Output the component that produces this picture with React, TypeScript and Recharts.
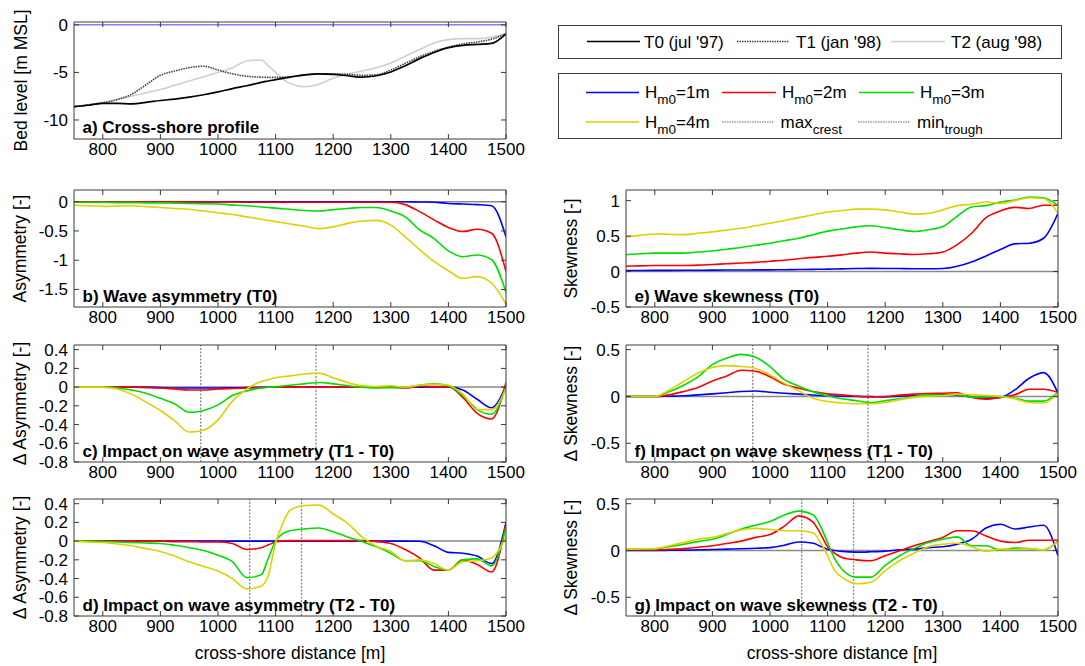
import React from 'react';
import { LineChart, Line, XAxis, YAxis, ReferenceLine } from 'recharts';

const FONT = '"Liberation Sans", Arial, Helvetica, sans-serif';

// cross-shore distance [m]
const xDist = [750, 775, 800, 825, 850, 875, 900, 925, 950, 975, 1000, 1025, 1050, 1075, 1087.5, 1100, 1112.5, 1125, 1150, 1175, 1200, 1225, 1250, 1275, 1300, 1325, 1350, 1375, 1400, 1425, 1450, 1475, 1500];
const xTicks = [800, 900, 1000, 1100, 1200, 1300, 1400, 1500];

// a) bed level profiles [m MSL]
const profileT0 = [-8.6, -8.45, -8.25, -8.25, -8.3, -8.15, -7.95, -7.8, -7.6, -7.35, -7.05, -6.7, -6.4, -6.05, -5.9, -5.75, -5.62, -5.5, -5.25, -5.15, -5.2, -5.35, -5.5, -5.35, -4.95, -4.3, -3.55, -2.9, -2.4, -2.15, -2.05, -1.95, -0.95];
const profileT1 = [-8.6, -8.4, -8.2, -7.85, -7.3, -6.3, -5.3, -4.85, -4.5, -4.35, -4.75, -5.15, -5.4, -5.5, -5.52, -5.52, -5.5, -5.45, -5.3, -5.15, -5.15, -5.2, -5.3, -5.25, -4.75, -4.05, -3.35, -2.8, -2.35, -2.0, -1.8, -1.5, -0.95];
const profileT2 = [-8.6, -8.4, -8.2, -7.85, -7.5, -7.15, -6.8, -6.35, -5.9, -5.45, -5.0, -4.5, -3.8, -3.7, -4.3, -5.0, -5.7, -6.15, -6.5, -6.25, -5.6, -5.2, -4.85, -4.5, -4.0, -3.3, -2.6, -1.9, -1.55, -1.45, -1.45, -1.3, -0.95];

// b) wave asymmetry (T0)
const asymH1 = [0, 0, 0, 0, 0, 0, 0, 0, 0, 0, 0, 0, 0, 0, 0, 0, 0, 0, 0, 0, 0, 0, 0, 0, 0, 0, -0.005, -0.01, -0.03, -0.04, -0.05, -0.07, -0.6];
const asymH2 = [0, 0, 0, 0, 0, 0, 0, 0, -0.005, -0.005, -0.005, -0.005, -0.01, -0.01, -0.01, -0.01, -0.01, -0.01, -0.01, -0.01, -0.01, -0.01, -0.01, -0.01, -0.01, -0.05, -0.17, -0.31, -0.44, -0.51, -0.47, -0.54, -1.19];
const asymH3 = [-0.01, -0.01, -0.01, -0.015, -0.015, -0.02, -0.02, -0.025, -0.03, -0.035, -0.04, -0.055, -0.07, -0.09, -0.1, -0.11, -0.12, -0.13, -0.15, -0.16, -0.135, -0.115, -0.1, -0.1, -0.16, -0.26, -0.48, -0.63, -0.84, -0.94, -0.91, -0.99, -1.55];
const asymH4 = [-0.06, -0.07, -0.08, -0.075, -0.07, -0.085, -0.1, -0.115, -0.13, -0.16, -0.19, -0.22, -0.26, -0.3, -0.32, -0.34, -0.36, -0.38, -0.42, -0.46, -0.43, -0.37, -0.33, -0.32, -0.4, -0.6, -0.82, -1.02, -1.18, -1.31, -1.28, -1.39, -1.75];

// e) wave skewness (T0)
const skewH1 = [0.014, 0.015, 0.016, 0.017, 0.018, 0.019, 0.02, 0.021, 0.022, 0.023, 0.024, 0.026, 0.028, 0.03, 0.032, 0.034, 0.036, 0.038, 0.042, 0.045, 0.044, 0.042, 0.04, 0.04, 0.043, 0.075, 0.135, 0.22, 0.31, 0.39, 0.4, 0.47, 0.82];
const skewH2 = [0.075, 0.08, 0.085, 0.085, 0.085, 0.09, 0.1, 0.11, 0.12, 0.13, 0.145, 0.16, 0.18, 0.2, 0.207, 0.215, 0.225, 0.235, 0.26, 0.275, 0.26, 0.25, 0.24, 0.25, 0.275, 0.38, 0.54, 0.76, 0.855, 0.905, 0.89, 0.935, 0.935];
const skewH3 = [0.24, 0.25, 0.26, 0.26, 0.26, 0.275, 0.29, 0.315, 0.34, 0.37, 0.4, 0.435, 0.47, 0.52, 0.545, 0.57, 0.585, 0.6, 0.63, 0.645, 0.62, 0.59, 0.565, 0.59, 0.635, 0.78, 0.91, 0.93, 0.98, 1.01, 1.05, 1.04, 0.93];
const skewH4 = [0.49, 0.51, 0.53, 0.525, 0.52, 0.54, 0.56, 0.585, 0.61, 0.645, 0.68, 0.72, 0.76, 0.8, 0.82, 0.84, 0.85, 0.86, 0.88, 0.88, 0.87, 0.84, 0.81, 0.82, 0.87, 0.93, 0.95, 0.98, 0.96, 1.0, 1.04, 1.03, 0.82];

// c) impact on wave asymmetry (T1 - T0)
const dAsymT1H1 = [0, 0, 0, 0, 0, 0, -0.005, -0.01, -0.01, -0.01, -0.01, -0.008, -0.005, -0.003, 0, 0, 0, 0, 0, 0, 0, 0, 0, 0, 0, 0, 0, 0.002, 0.003, -0.03, -0.13, -0.22, 0.02];
const dAsymT1H2 = [0, 0, 0, 0, 0, -0.005, -0.01, -0.02, -0.03, -0.03, -0.02, -0.015, -0.01, -0.005, 0, 0, 0, 0, 0, 0, 0, 0, 0, 0, 0, -0.01, 0.01, 0.005, 0.005, -0.11, -0.28, -0.34, 0.05];
const dAsymT1H3 = [0, 0, 0, -0.01, -0.03, -0.065, -0.12, -0.18, -0.27, -0.25, -0.19, -0.09, -0.04, -0.01, 0, 0.005, 0.012, 0.02, 0.035, 0.05, 0.035, 0.015, 0, -0.01, -0.005, 0, 0.02, 0.035, 0.015, -0.09, -0.24, -0.29, 0];
const dAsymT1H4 = [0, 0, 0, -0.02, -0.075, -0.16, -0.25, -0.36, -0.48, -0.46, -0.35, -0.15, -0.02, 0.06, 0.08, 0.1, 0.11, 0.12, 0.14, 0.15, 0.1, 0.05, 0.015, 0.007, 0.015, 0, 0.02, 0.03, 0.02, -0.075, -0.24, -0.24, -0.015];

// d) impact on wave asymmetry (T2 - T0)
const dAsymT2H1 = [0, 0, 0, 0, 0, 0, 0, 0, 0, 0, 0, 0, 0, 0, 0, 0, 0, 0, 0, 0, 0, 0, 0, 0, 0, 0, -0.002, -0.05, -0.12, -0.13, -0.16, -0.24, 0.2];
const dAsymT2H2 = [0, 0, 0, 0, 0, 0, 0, -0.005, -0.005, -0.01, -0.01, -0.025, -0.09, -0.07, -0.04, -0.01, 0.003, 0.005, 0.005, 0.005, 0.005, 0.005, 0.005, -0.005, -0.025, -0.09, -0.18, -0.31, -0.31, -0.2, -0.25, -0.33, 0.19];
const dAsymT2H3 = [0, 0, -0.005, -0.01, -0.015, -0.02, -0.025, -0.045, -0.07, -0.1, -0.15, -0.22, -0.39, -0.36, -0.18, 0, 0.08, 0.11, 0.13, 0.14, 0.1, 0.045, -0.005, -0.06, -0.13, -0.21, -0.21, -0.27, -0.31, -0.2, -0.19, -0.265, 0.15];
const dAsymT2H4 = [0, -0.01, -0.015, -0.03, -0.05, -0.08, -0.11, -0.16, -0.22, -0.27, -0.32, -0.4, -0.51, -0.48, -0.36, -0.02, 0.19, 0.33, 0.38, 0.385, 0.29, 0.19, 0.045, -0.055, -0.11, -0.21, -0.2, -0.24, -0.31, -0.22, -0.21, -0.18, 0.045];

// f) impact on wave skewness (T1 - T0)
const dSkewT1H1 = [0, 0, 0, 0.003, 0.007, 0.017, 0.028, 0.04, 0.053, 0.058, 0.046, 0.035, 0.025, 0.015, 0.01, 0.007, 0.005, 0.003, 0, -0.002, -0.004, 0.003, 0.01, 0.014, 0.018, 0.014, -0.004, -0.018, -0.01, 0.07, 0.195, 0.255, 0.035];
const dSkewT1H2 = [0, 0, 0, 0.018, 0.053, 0.095, 0.166, 0.22, 0.28, 0.27, 0.21, 0.13, 0.088, 0.053, 0.04, 0.028, 0.022, 0.018, 0.004, -0.004, 0, 0.014, 0.025, 0.032, 0.035, 0.039, -0.01, -0.028, -0.01, 0.018, 0.078, 0.078, 0.045];
const dSkewT1H3 = [0, 0, 0, 0.05, 0.12, 0.21, 0.34, 0.41, 0.45, 0.42, 0.32, 0.18, 0.11, 0.05, 0.025, 0.007, -0.01, -0.025, -0.045, -0.065, -0.045, -0.025, 0, 0.018, 0.014, 0.018, -0.007, -0.004, 0, -0.018, -0.05, -0.05, 0.045];
const dSkewT1H4 = [0, 0, 0, 0.07, 0.16, 0.25, 0.31, 0.33, 0.32, 0.3, 0.23, 0.14, 0.06, -0.018, -0.04, -0.053, -0.062, -0.07, -0.078, -0.078, -0.064, -0.035, -0.01, 0.004, 0.007, 0.025, 0.018, 0.01, 0, -0.025, -0.064, -0.07, 0.035];

// g) impact on wave skewness (T2 - T0)
const dSkewT2H1 = [0, 0, 0, 0.002, 0.004, 0.007, 0.01, 0.014, 0.018, 0.024, 0.03, 0.056, 0.09, 0.077, 0.045, 0.014, 0, -0.01, -0.018, -0.014, -0.007, 0.007, 0.014, 0.03, 0.04, 0.067, 0.12, 0.24, 0.28, 0.23, 0.25, 0.27, -0.056];
const dSkewT2H2 = [0.007, 0.007, 0.007, 0.012, 0.02, 0.035, 0.05, 0.075, 0.1, 0.14, 0.17, 0.26, 0.37, 0.3, 0.18, 0.04, -0.03, -0.074, -0.1, -0.11, -0.056, -0.004, 0.05, 0.095, 0.14, 0.21, 0.21, 0.155, 0.1, 0.085, 0.11, 0.11, 0.11];
const dSkewT2H3 = [0.014, 0.014, 0.016, 0.04, 0.067, 0.095, 0.12, 0.17, 0.23, 0.27, 0.31, 0.38, 0.42, 0.38, 0.26, 0.085, -0.09, -0.2, -0.285, -0.285, -0.16, -0.056, 0.02, 0.085, 0.12, 0.145, 0.05, 0.05, 0.004, 0.025, 0.02, 0.007, 0.1];
const dSkewT2H4 = [0.014, 0.017, 0.02, 0.05, 0.085, 0.12, 0.14, 0.18, 0.22, 0.236, 0.225, 0.21, 0.21, 0.19, 0.085, -0.056, -0.215, -0.285, -0.356, -0.34, -0.215, -0.11, -0.03, 0.04, 0.067, 0.077, 0.04, -0.007, 0.014, 0.01, 0.02, 0.004, 0.1];

// crest / trough positions
const crestTroughT1 = [970, 1170];
const crestTroughT2 = [1055, 1145];

const C_H1 = '#0000ff';
const C_H2 = '#ff0000';
const C_H3 = '#00dd00';
const C_H4 = '#dcd200';
const FRAME = '#3a3a3a';

type Series = { key: string; values: number[]; color: string; dash?: string; width?: number };

const wave = (a: number[], b: number[], c: number[], d: number[]): Series[] => [
  { key: 'h1', values: a, color: C_H1 },
  { key: 'h2', values: b, color: C_H2 },
  { key: 'h3', values: c, color: C_H3 },
  { key: 'h4', values: d, color: C_H4 },
];

type PanelProps = {
  left: number; top: number; w: number; h: number;
  domain: [number, number]; yTicks: number[];
  series: Series[]; zeroColor: string; zeroWidth: number; vlines?: number[];
};

function Panel({ left, top, w, h, domain, yTicks, series, zeroColor, zeroWidth, vlines = [] }: PanelProps) {
  const YW = 60;
  const MT = 10;
  const MR = 26;
  const data = xDist.map((x, i) => {
    const row: Record<string, number> = { x };
    series.forEach((s) => { row[s.key] = s.values[i]; });
    return row;
  });
  const cw = w + YW + 1 + MR;
  const ch = h + 31 + MT;
  const tickStyle = { fill: '#000', fontSize: 17, fontFamily: FONT };
  return (
    <div style={{ position: 'absolute', left: left - YW, top: top - 1 - MT, width: cw, height: ch }}>
      <LineChart width={cw} height={ch} data={data} margin={{ top: MT, right: MR, bottom: 0, left: 0 }}>
        <XAxis xAxisId="b" dataKey="x" type="number" domain={[750, 1500]} ticks={xTicks} allowDataOverflow
          orientation="bottom" height={30} tickSize={-5} tickMargin={9} stroke={FRAME} tick={tickStyle} interval={0} />
        <XAxis xAxisId="t" dataKey="x" type="number" domain={[750, 1500]} ticks={xTicks} allowDataOverflow
          orientation="top" height={1} tickSize={-5} tickFormatter={() => ''} stroke={FRAME} interval={0} />
        <YAxis yAxisId="l" type="number" domain={domain} ticks={yTicks} allowDataOverflow width={YW}
          tickSize={-5} tickMargin={11} stroke={FRAME} tick={tickStyle} interval={0} tickFormatter={(v: number) => String(v)} />
        <YAxis yAxisId="r" orientation="right" type="number" domain={domain} ticks={yTicks} allowDataOverflow width={1}
          tickSize={-5} tickFormatter={() => ''} stroke={FRAME} interval={0} />
        <ReferenceLine xAxisId="b" yAxisId="l" y={0} stroke={zeroColor} strokeWidth={zeroWidth} />
        {vlines.map((v) => (
          <ReferenceLine key={v} xAxisId="b" yAxisId="l" x={v} stroke="#8a8a8a" strokeWidth={1.3} strokeDasharray="2 1.5" />
        ))}
        {series.map((s) => (
          <Line key={s.key} xAxisId="b" yAxisId="l" dataKey={s.key} type="monotone" stroke={s.color}
            strokeWidth={s.width ?? 1.6} strokeDasharray={s.dash} dot={false} activeDot={false} isAnimationActive={false} />
        ))}
      </LineChart>
    </div>
  );
}

const LX = 74, RX = 626, PW = 432, PH = 117;
const TOPS = [22, 190, 345, 499];

function Overlay() {
  const title = (x: number, y: number, t: string) => (
    <text x={x} y={y} fontSize={17} fontWeight="bold" fontFamily={FONT} fill="#000">{t}</text>
  );
  const ylab = (x: number, yc: number, t: string) => (
    <text x={x} y={yc} fontSize={17.5} fontFamily={FONT} textAnchor="middle" transform={`rotate(-90 ${x} ${yc})`} fill="#000">{t}</text>
  );
  const hm = (x: number, y: number, v: string) => (
    <text x={x} y={y} fontSize={17} fontFamily={FONT} fill="#000">H<tspan dy={6} fontSize={13.5}>m0</tspan><tspan dy={-6}>={v}</tspan></text>
  );
  return (
    <svg width={1085} height={666} style={{ position: 'absolute', left: 0, top: 0, pointerEvents: 'none' }}>
      {ylab(27, TOPS[0] + PH / 2, 'Bed level [m MSL]')}
      {ylab(26, TOPS[1] + PH / 2, 'Asymmetry [-]')}
      {ylab(26, TOPS[2] + PH / 2, '\u0394 Asymmetry [-]')}
      {ylab(26, TOPS[3] + PH / 2, '\u0394 Asymmetry [-]')}
      {ylab(577, TOPS[1] + PH / 2, 'Skewness [-]')}
      {ylab(577, TOPS[2] + PH / 2, '\u0394 Skewness [-]')}
      {ylab(577, TOPS[3] + PH / 2, '\u0394 Skewness [-]')}
      {title(LX + 8.5, TOPS[0] + PH - 6, 'a) Cross-shore profile')}
      {title(LX + 8.5, TOPS[1] + PH - 5.5, 'b) Wave asymmetry (T0)')}
      {title(LX + 8.5, TOPS[2] + PH - 5.5, 'c) Impact on wave asymmetry (T1 - T0)')}
      {title(LX + 8.5, TOPS[3] + PH - 5.5, 'd) Impact on wave asymmetry (T2 - T0)')}
      {title(RX + 8.5, TOPS[1] + PH - 5.5, 'e) Wave skewness (T0)')}
      {title(RX + 8.5, TOPS[2] + PH - 5.5, 'f) Impact on wave skewness (T1 - T0)')}
      {title(RX + 8.5, TOPS[3] + PH - 5.5, 'g) Impact on wave skewness (T2 - T0)')}
      <text x={LX + PW / 2} y={659} fontSize={17.5} fontFamily={FONT} textAnchor="middle">cross-shore distance [m]</text>
      <text x={RX + PW / 2} y={659} fontSize={17.5} fontFamily={FONT} textAnchor="middle">cross-shore distance [m]</text>

      {/* legend 1 */}
      <rect x={558.5} y={25.5} width={503} height={33} fill="#fff" stroke={FRAME} strokeWidth={1} />
      <line x1={587} y1={41.5} x2={640} y2={41.5} stroke="#000" strokeWidth={1.6} />
      <text x={644} y={48} fontSize={17} fontFamily={FONT}>T0 (jul '97)</text>
      <line x1={737} y1={41.5} x2={789} y2={41.5} stroke="#404040" strokeWidth={1.6} strokeDasharray="1.5 1" />
      <text x={796} y={48} fontSize={17} fontFamily={FONT}>T1 (jan '98)</text>
      <line x1={891} y1={41.5} x2={945} y2={41.5} stroke="#cfcfcf" strokeWidth={1.6} />
      <text x={951} y={48} fontSize={17} fontFamily={FONT}>T2 (aug '98)</text>

      {/* legend 2 */}
      <rect x={558.5} y={73.5} width={503} height={65} fill="#fff" stroke={FRAME} strokeWidth={1} />
      <line x1={586} y1={92.5} x2={639} y2={92.5} stroke={C_H1} strokeWidth={1.6} />
      {hm(645, 98, '1m')}
      <line x1={722} y1={92.5} x2={776} y2={92.5} stroke={C_H2} strokeWidth={1.6} />
      {hm(782, 98, '2m')}
      <line x1={859} y1={92.5} x2={914} y2={92.5} stroke={C_H3} strokeWidth={1.6} />
      {hm(920, 98, '3m')}
      <line x1={586} y1={122} x2={639} y2={122} stroke={C_H4} strokeWidth={1.6} />
      {hm(645, 127.5, '4m')}
      <line x1={722} y1={122} x2={774} y2={122} stroke="#9a9a9a" strokeWidth={1.3} strokeDasharray="1.5 1" />
      <text x={780.5} y={127.5} fontSize={17} fontFamily={FONT}>max<tspan dy={6} fontSize={13.5}>crest</tspan></text>
      <line x1={858} y1={122} x2={910} y2={122} stroke="#9a9a9a" strokeWidth={1.3} strokeDasharray="1.5 1" />
      <text x={917} y={127.5} fontSize={17} fontFamily={FONT}>min<tspan dy={6} fontSize={13.5}>trough</tspan></text>
    </svg>
  );
}

export default function App() {
  return (
    <div style={{ position: 'absolute', left: 0, top: 0, width: 1085, height: 666, background: '#fff', fontFamily: FONT, overflow: 'hidden' }}>
      <Panel left={LX} top={TOPS[0]} w={PW} h={PH} domain={[-12, 0.3]} yTicks={[-10, -5, 0]} zeroColor="#8080ff" zeroWidth={1.5}
        series={[
          { key: 't2', values: profileT2, color: '#cfcfcf', width: 1.6 },
          { key: 't1', values: profileT1, color: '#404040', dash: '1.5 1', width: 1.6 },
          { key: 't0', values: profileT0, color: '#000000', width: 1.7 },
        ]} />
      <Panel left={LX} top={TOPS[1]} w={PW} h={PH} domain={[-1.8, 0.2]} yTicks={[-1.5, -1, -0.5, 0]} zeroColor="#8a8a8a" zeroWidth={1.5}
        series={wave(asymH1, asymH2, asymH3, asymH4)} />
      <Panel left={LX} top={TOPS[2]} w={PW} h={PH} domain={[-0.8, 0.45]} yTicks={[-0.8, -0.6, -0.4, -0.2, 0, 0.2, 0.4]} zeroColor="#8a8a8a" zeroWidth={1.5}
        vlines={crestTroughT1} series={wave(dAsymT1H1, dAsymT1H2, dAsymT1H3, dAsymT1H4)} />
      <Panel left={LX} top={TOPS[3]} w={PW} h={PH} domain={[-0.8, 0.45]} yTicks={[-0.8, -0.6, -0.4, -0.2, 0, 0.2, 0.4]} zeroColor="#8a8a8a" zeroWidth={1.5}
        vlines={crestTroughT2} series={wave(dAsymT2H1, dAsymT2H2, dAsymT2H3, dAsymT2H4)} />
      <Panel left={RX} top={TOPS[1]} w={PW} h={PH} domain={[-0.5, 1.15]} yTicks={[-0.5, 0, 0.5, 1]} zeroColor="#8a8a8a" zeroWidth={1.5}
        series={wave(skewH1, skewH2, skewH3, skewH4)} />
      <Panel left={RX} top={TOPS[2]} w={PW} h={PH} domain={[-0.7, 0.55]} yTicks={[-0.5, 0, 0.5]} zeroColor="#8a8a8a" zeroWidth={1.5}
        vlines={crestTroughT1} series={wave(dSkewT1H1, dSkewT1H2, dSkewT1H3, dSkewT1H4)} />
      <Panel left={RX} top={TOPS[3]} w={PW} h={PH} domain={[-0.7, 0.55]} yTicks={[-0.5, 0, 0.5]} zeroColor="#8a8a8a" zeroWidth={1.5}
        vlines={crestTroughT2} series={wave(dSkewT2H1, dSkewT2H2, dSkewT2H3, dSkewT2H4)} />
      <Overlay />
    </div>
  );
}
